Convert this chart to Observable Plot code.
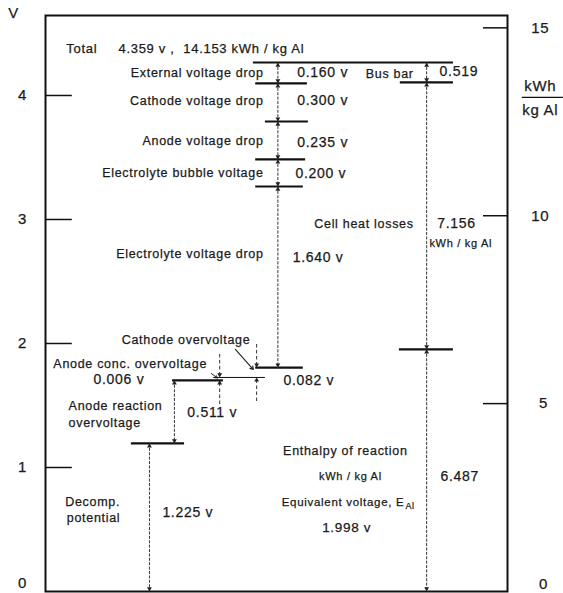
<!DOCTYPE html>
<html><head><meta charset="utf-8">
<script src="https://cdn.jsdelivr.net/npm/d3@7"></script>
<script src="https://cdn.jsdelivr.net/npm/@observablehq/plot@0.6"></script>
<style>
html,body{margin:0;padding:0;background:#fff;overflow:hidden}
</style>
</head><body><div id="chart"></div>
<script>
// ---------- data ----------
const components = ["External voltage drop","Cathode voltage drop","Anode voltage drop","Electrolyte bubble voltage","Electrolyte voltage drop","Cathode overvoltage","Anode conc. overvoltage","Anode reaction overvoltage","Decomp. potential"];
const componentVolts = [0.160,0.300,0.235,0.200,1.640,0.082,0.006,0.511,1.225];
// level (V, on the figure's voltage axis) at which the top edge of each component is drawn
const componentTopDrawn = [4.266,4.097,3.790,3.484,3.266,1.806,1.726,1.702,1.194];
const energyParts = ["Bus bar","Cell heat losses","Enthalpy of reaction"];
const energyKWh = [0.519,7.156,6.487];
const energyTopDrawn = [4.266,4.105,1.952];
const totalVolts = 4.359;
const totalKWh = 14.153;
const equivalentVolts = 1.998;
const voltTicks = [0,1,2,3,4];
const kwhTicks = [0,5,10,15];
const kwhPerVoltOnAxis = 3.3;

// ---------- layout (diagram units: 0–100 across the frame) ----------
const FONT = "'Liberation Sans', Arial, Helvetica, sans-serif";
const INK = "#1a1a1a";
const lineX = [[45.0,88.3],[45.5,56.7],[47.6,56.9],[45.5,56.3],[45.5,55.8],[45.5,55.8],[36.4,47.6],[27.5,38.5],[18.6,30.1]];
const lineThin = [false,false,false,false,false,false,true,false,false];
const arrowX = [50.3,50.3,50.3,50.3,50.3,45.7,37.7,27.9,22.5];
const arrowKind = ["span","span","span","span","span","pointer","pointer","span","span"];
const energyLineX = [null,[76.8,88.3],[76.6,88.3]];
const energyArrowX = 82.5;
const pointerLen = 0.19;
const headOff = 0.022;

const comp = components.map((name,i)=>({
  name, v: componentVolts[i], top: componentTopDrawn[i],
  bottom: i+1<components.length ? componentTopDrawn[i+1] : 0,
  x1: lineX[i][0], x2: lineX[i][1], thin: lineThin[i], ax: arrowX[i], kind: arrowKind[i]
}));
const energy = energyParts.map((name,i)=>({
  name, k: energyKWh[i], top: energyTopDrawn[i],
  bottom: i+1<energyParts.length ? energyTopDrawn[i+1] : 0,
  lx: energyLineX[i], ax: energyArrowX
}));

const spans = [...comp.filter(d=>d.kind==="span"), ...energy];
const pointers = comp.filter(d=>d.kind==="pointer").flatMap(d=>[
  {x:d.ax, y1:d.top+pointerLen, y2:d.top},
  {x:d.ax, y1:d.bottom-pointerLen, y2:d.bottom}
]);
const heads = [
  ...spans.flatMap(d=>[{x:d.ax, y:d.top-headOff, r:0},{x:d.ax, y:d.bottom+headOff, r:180}]),
  ...comp.filter(d=>d.kind==="pointer").flatMap(d=>[{x:d.ax, y:d.top+headOff, r:180},{x:d.ax, y:d.bottom-headOff, r:0}])
];
const thickLines = [...comp.filter(d=>!d.thin).map(d=>({y:d.top,x1:d.x1,x2:d.x2})),
  ...energy.filter(d=>d.lx).map(d=>({y:d.top,x1:d.lx[0],x2:d.lx[1]}))];
const thinLines = comp.filter(d=>d.thin).map(d=>({y:d.top,x1:d.x1,x2:d.x2}));

const fmtV = v => v.toFixed(3) + " v";

const endTexts = [
  ...[0,1,2,3,4].map((i,j)=>({t:components[i], x:47.2, y:[4.185,3.952,3.629,3.371,2.718][j], s:12.5})),
  {t:energyParts[0], x:79.7, y:4.177, s:12.5},
  {t:energyParts[1], x:79.7, y:2.960, s:12.5},
  {t:"Equivalent voltage, E", x:77.7, y:0.718, s:11.5}
];
const startTexts = [
  {t:"Total", x:4.5, y:4.379, s:13},
  {t:`${totalVolts.toFixed(3)} v ,  ${totalKWh.toFixed(3)} kWh / kg Al`, x:15.8, y:4.379, s:13},
  {t:fmtV(componentVolts[0]), x:54.5, y:4.185, s:14},
  {t:fmtV(componentVolts[1]), x:54.5, y:3.960, s:14},
  {t:fmtV(componentVolts[2]), x:54.5, y:3.621, s:14},
  {t:fmtV(componentVolts[3]), x:54.1, y:3.371, s:14},
  {t:fmtV(componentVolts[4]), x:53.5, y:2.694, s:14},
  {t:components[5], x:16.5, y:2.032, s:12.5},
  {t:fmtV(componentVolts[5]), x:51.5, y:1.702, s:14},
  {t:components[6], x:1.7, y:1.831, s:12.5},
  {t:fmtV(componentVolts[6]), x:10.4, y:1.710, s:14},
  {t:"Anode reaction", x:5.0, y:1.492, s:12.5},
  {t:"overvoltage", x:5.0, y:1.355, s:12.5},
  {t:fmtV(componentVolts[7]), x:30.7, y:1.444, s:14},
  {t:fmtV(componentVolts[8]), x:25.3, y:0.637, s:14},
  {t:energyKWh[0].toFixed(3), x:85.3, y:4.194, s:14},
  {t:energyKWh[1].toFixed(3), x:84.8, y:2.968, s:14},
  {t:"kWh / kg Al", x:83.1, y:2.806, s:11},
  {t:energyKWh[2].toFixed(3), x:85.5, y:0.927, s:14},
  {t:"Al", x:77.9, y:0.685, s:9}
];
const midTexts = [
  {t:"Decomp.", x:10.2, y:0.718, s:12.5},
  {t:"potential", x:10.4, y:0.589, s:12.5},
  {t:energyParts[2], x:64.9, y:1.129, s:12.5},
  {t:"kWh / kg Al", x:66.0, y:0.927, s:11},
  {t:fmtV(equivalentVolts), x:65.2, y:0.516, s:13.5},
  {t:"V", x:-6.9, y:4.661, s:15},
  ...voltTicks.map(v=>({t:String(v), x:-5.0, y: v===0 ? 0.07 : v, s:15})),
  ...kwhTicks.map(k=>({t:String(k), x: k<10 ? 107.8 : 107.1, y: k===0 ? 0.06 : k/kwhPerVoltOnAxis, s:15})),
  {t:"kWh", x:107.1, y:4.073, s:15},
  {t:"kg Al", x:107.1, y:3.879, s:15}
];

const textMark = (rows, anchor) => Plot.text(rows, {
  x:"x", y:"y", text:"t", fontSize:"s", textAnchor:anchor,
  fill:INK, stroke:INK, strokeWidth:0.25, fontFamily:FONT
});

const chart = Plot.plot({
  width: 563, height: 593,
  marginLeft: 45, marginRight: 56, marginTop: 15, marginBottom: 2,
  x: {domain: [0, 100], axis: null},
  y: {domain: [0, 4.645], axis: null},
  style: {fontFamily: FONT, background: "white", letterSpacing: "0.7px", overflow: "visible"},
  marks: [
    Plot.frame({stroke: "#111", strokeWidth: 2}),
    // axis ticks drawn inside the frame
    Plot.ruleY(voltTicks.filter(v=>v>0), {y: d=>d, x1: 0, x2: 5.8, stroke:"#111", strokeWidth:1.5}),
    Plot.ruleY(kwhTicks.filter(k=>k>0), {y: k=>k/kwhPerVoltOnAxis, x1: 94.8, x2: 100, stroke:"#111", strokeWidth:1.5}),
    Plot.ruleY([3.984], {x1: 103.2, x2: 112.1, stroke:"#111", strokeWidth:1.3}),
    // level lines
    Plot.ruleY(thickLines, {y:"y", x1:"x1", x2:"x2", stroke:"#111", strokeWidth:2.2}),
    Plot.ruleY(thinLines, {y:"y", x1:"x1", x2:"x2", stroke:"#111", strokeWidth:1}),
    // span arrows (shafts)
    Plot.link(spans, {x1:"ax", x2:"ax", y1:"top", y2:"bottom", stroke:"#333", strokeWidth:1,
      strokeDasharray:"3,1.4"}),
    // dashed pointers for tiny components
    Plot.link(pointers, {x1:"x", x2:"x", y1:"y1", y2:"y2", stroke:"#333", strokeWidth:1,
      strokeDasharray:"3.5,2.5"}),
    // arrowheads
    Plot.dot(heads, {x:"x", y:"y", rotate:"r", symbol:"triangle", r:1.8, fill:"#222", stroke:"none"}),
    // leader lines
    Plot.arrow([{x1:41.1,y1:1.952,x2:45.0,y2:1.790}], {x1:"x1",y1:"y1",x2:"x2",y2:"y2", stroke:"#222", strokeWidth:1.1, headLength:5}),
    Plot.arrow([{x1:35.9,y1:1.758,x2:37.2,y2:1.722}], {x1:"x1",y1:"y1",x2:"x2",y2:"y2", stroke:"#222", strokeWidth:1, headLength:4}),
    textMark(endTexts, "end"),
    textMark(startTexts, "start"),
    textMark(midTexts, "middle")
  ]
});
document.getElementById("chart").appendChild(chart);
</script>
</body></html>
